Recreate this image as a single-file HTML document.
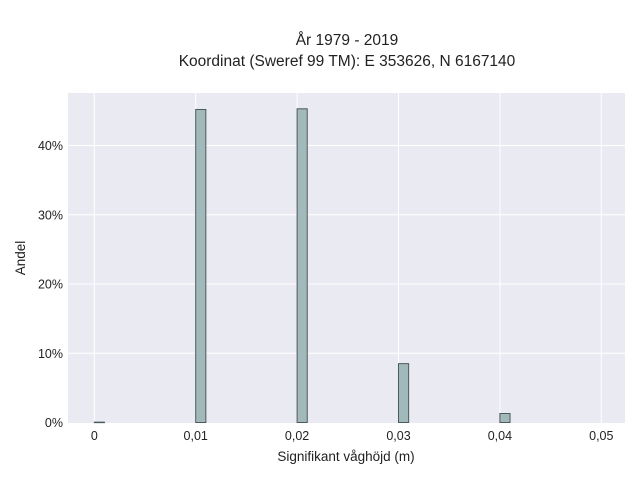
<!DOCTYPE html>
<html><head><meta charset="utf-8"><style>
body{margin:0;background:#fff;font-family:"Liberation Sans",sans-serif}
</style></head><body>
<svg id="chart" width="640" height="480" xmlns="http://www.w3.org/2000/svg" font-family="Liberation Sans, sans-serif">
<text x="347" y="45" text-anchor="middle" font-size="15.5" fill="#222">År 1979 - 2019</text>
<text x="347" y="66" text-anchor="middle" font-size="15.5" fill="#222">Koordinat (Sweref 99 TM): E 353626, N 6167140</text>
<rect x="68" y="93" width="557" height="330" fill="#eaeaf2"/>
<g id="grid"></g><g id="bars"></g><g id="ticks"></g>
<text x="346" y="461" text-anchor="middle" font-size="13.5" fill="#222">Signifikant våghöjd (m)</text>
<text transform="translate(25,258) rotate(-90)" text-anchor="middle" font-size="13.5" fill="#222">Andel</text>
</svg>
<script>
const binStarts=[0,0.01,0.02,0.03,0.04];
const shares=[0.05,45.2,45.3,8.5,1.3];
const xTicks=[0,0.01,0.02,0.03,0.04,0.05];
const xTickLabels=["0","0,01","0,02","0,03","0,04","0,05"];
const yTicks=[0,10,20,30,40];
const yTickLabels=["0%","10%","20%","30%","40%"];
const binWidth=0.001;
const NS="http://www.w3.org/2000/svg";
const xs=v=>94.3+v*10140;
const ys=v=>422.5-v*6.925;
function mk(t,a,p){const e=document.createElementNS(NS,t);for(const k in a)e.setAttribute(k,a[k]);p.appendChild(e);return e;}
const g=document.getElementById('grid'),b=document.getElementById('bars'),tk=document.getElementById('ticks');
xTicks.forEach((v,i)=>{
 const l=mk('line',{x1:xs(v),x2:xs(v),y1:93,y2:423,stroke:'#fff','stroke-width':1},g);
 
 
 const t=mk('text',{x:xs(v),y:440,'text-anchor':'middle','font-size':12.5,fill:'#222'},tk);
 t.textContent=xTickLabels[i];
 
 
});
yTicks.forEach((v,i)=>{
 if(v>0){const l=mk('line',{x1:68,x2:625,y1:ys(v),y2:ys(v),stroke:'#fff','stroke-width':1},g);
 
 }
 const t=mk('text',{x:63,y:ys(v)+4.5,'text-anchor':'end','font-size':12.5,fill:'#222'},tk);
 t.textContent=yTickLabels[i];
 
 
});
binStarts.forEach((v,i)=>{
 const x0=xs(v),x1=xs(v+binWidth),y=ys(shares[i]);
 const r=mk('rect',{x:x0,y:y,width:x1-x0,height:Math.max(422.5-y,0.5),fill:'#a1b9ba',stroke:'#4d5a5a','stroke-width':1},b);
 
 
});
</script>
</body></html>
